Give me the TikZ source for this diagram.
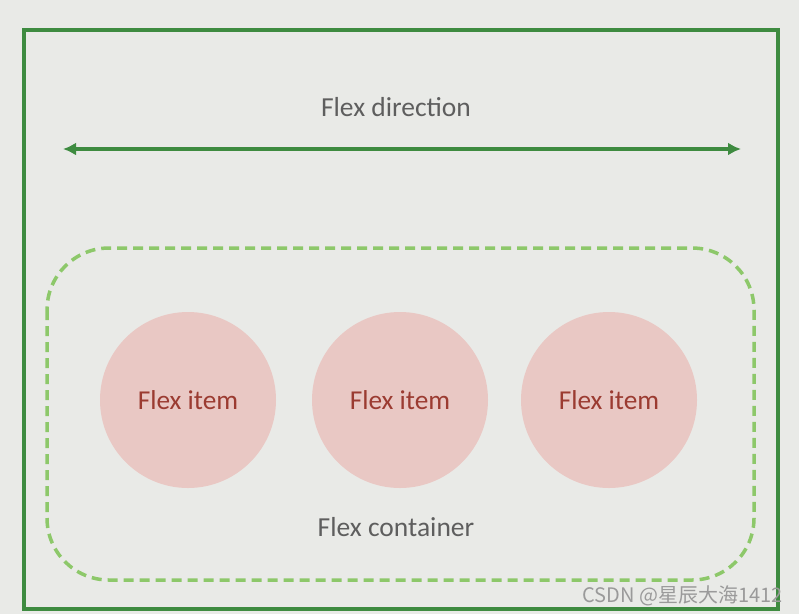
\documentclass[tikz,border=0pt]{standalone}
\usepackage{fontspec}
\setmainfont{Carlito}
\newfontfamily\cjk{Noto Sans CJK SC}
\usepackage{xcolor}
\usetikzlibrary{positioning,shapes,arrows.meta}

\definecolor{bgcol}{HTML}{E9EAE7}
\definecolor{framegreen}{HTML}{3E8B40}
\definecolor{dashgreen}{HTML}{8DC86A}
\definecolor{itemfill}{HTML}{E9C8C4}
\definecolor{itemtext}{HTML}{9B3B31}
\definecolor{labelgray}{HTML}{5E5E5E}
\definecolor{markgray}{HTML}{9A9A9A}

\begin{document}
\begin{tikzpicture}[x=1pt,y=-1pt]
\tikzstyle{every node}+=[inner sep=0pt]
\tikzstyle{item}=[circle,fill=itemfill,minimum size=176pt,text=itemtext,font=\fontsize{27.3}{30}\selectfont]
\tikzstyle{caption}=[text=labelgray,font=\fontsize{27.5}{30}\selectfont]
\fill [bgcol] (0,0) rectangle (799,614);
\useasboundingbox (0,0) rectangle (799,614);
\draw [framegreen,line width=3.2pt] (24,30) rectangle (778,609);
% direction arrow
\coordinate (dirL) at (63,149);
\coordinate (dirR) at (741,149);
\draw [framegreen,line width=3.2pt,{Latex[length=13pt,width=13pt]}-{Latex[length=13pt,width=13pt]}] (dirL) -- (dirR);
\node [caption] (dir) at (396,107) {Flex direction};
% container
\draw [dashgreen,line width=3.5pt,dash pattern=on 10pt off 6pt,rounded corners=62pt] (47,248) rectangle (754,580);
\node [item] (item1) at (188,400) {Flex item};
\node [item] (item2) at (400,400) {Flex item};
\node [item] (item3) at (609,400) {Flex item};
\node [caption] (box) at (396,527) {Flex container};
\node [text=markgray,font=\cjk\fontsize{20}{23}\selectfont,anchor=east] (mark) at (783,596) {CSDN @星辰大海1412};
\end{tikzpicture}
\end{document}
